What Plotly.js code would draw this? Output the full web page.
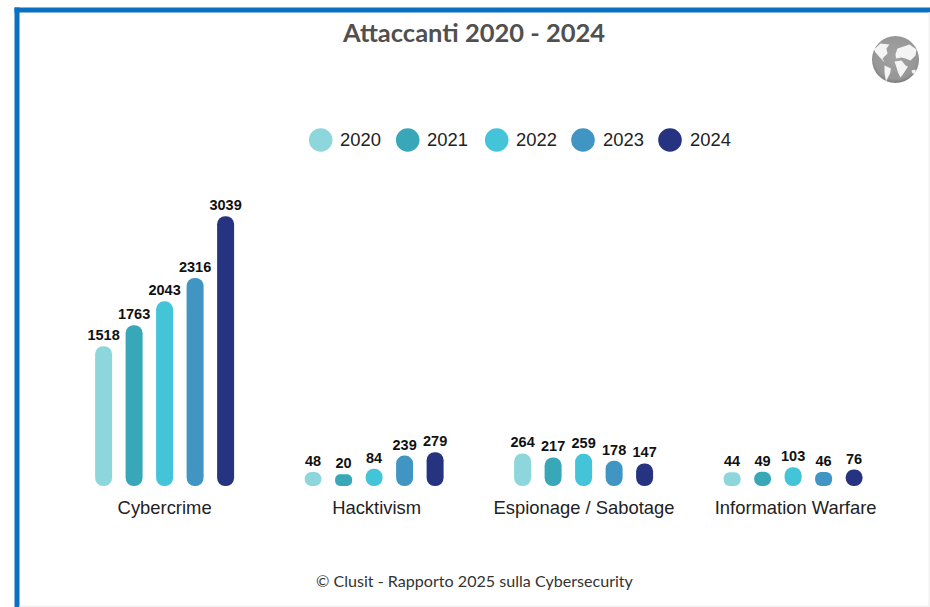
<!DOCTYPE html>
<html>
<head>
<meta charset="utf-8">
<script src="https://cdn.plot.ly/plotly-3.0.1.min.js"></script>
<style>html,body{margin:0;padding:0;background:#fff}</style>
</head>
<body>
<div id="chart" style="width:930px;height:607px"></div>
<script>
// Attackers by category, one series per year
const categories = ['Cybercrime', 'Hacktivism', 'Espionage / Sabotage', 'Information Warfare'];
const groupSlots = [0, 1, 2, 3];
const labelSlots = [0, 1.012, 2.002, 3.012];
const years = ['2020', '2021', '2022', '2023', '2024'];
const values2020 = [1518, 48, 264, 44];
const values2021 = [1763, 20, 217, 49];
const values2022 = [2043, 84, 259, 103];
const values2023 = [2316, 239, 178, 46];
const values2024 = [3039, 279, 147, 76];
const seriesValues = [values2020, values2021, values2022, values2023, values2024];
const colors = ['#8dd7dc', '#38a8b8', '#43c4d8', '#4195c3', '#263380'];

const W = 930, H = 607, plotBottom = 486;
const pxX = p => p / W;
const pxY = p => (plotBottom - p) / plotBottom;

// Every pill starts a little under zero; the axis floor leaves room for that round foot
const pxPerUnit = 0.0855;
const floorValue = -10 / pxPerUnit;
const zeroPx = 476;
const yRange = [floorValue, zeroPx / pxPerUnit];
const groupStep = 209.5, firstGroupPx = 164.6;
const xRange = [-firstGroupPx / groupStep, (W - firstGroupPx) / groupStep];

// A bar with an explicit base is rounded at both ends, which gives the pill shape
const traces = seriesValues.map((vals, i) => ({
  type: 'bar', name: years[i], x: groupSlots,
  base: vals.map(() => floorValue), y: vals.map(v => v - floorValue),
  marker: {color: colors[i], line: {width: 0}, cornerradius: 8.5},
  text: vals.map(String), textposition: 'outside', cliponaxis: false,
  constraintext: 'none',
  textfont: {family: 'Liberation Sans', size: 14.5, color: '#111', weight: 'bold'},
  customdata: vals, hovertemplate: '%{customdata}<extra>' + years[i] + '</extra>',
  showlegend: false
}));

// Legend row: filled dots with the year beside them
const legendDotPx = [320.7, 407.7, 496.7, 583, 670];
const shapes = [], annotations = [];
years.forEach((y, i) => {
  shapes.push({
    type: 'circle', xref: 'paper', yref: 'paper',
    x0: pxX(legendDotPx[i] - 11.8), x1: pxX(legendDotPx[i] + 11.8),
    y0: pxY(140 + 11.8), y1: pxY(140 - 11.8),
    fillcolor: colors[i], line: {width: 0}
  });
  annotations.push({
    xref: 'paper', yref: 'paper', x: pxX(legendDotPx[i] + 17.5), y: pxY(139.5),
    xanchor: 'left', yanchor: 'middle', showarrow: false, text: y,
    font: {family: 'Liberation Sans', size: 18.4, color: '#222'}
  });
});

// Frame around the card
const frame = (a, b, c, d, col) => ({
  type: 'rect', xref: 'paper', yref: 'paper',
  x0: pxX(a), x1: pxX(c), y0: pxY(d), y1: pxY(b), fillcolor: col, line: {width: 0}
});
shapes.push(frame(14.5, 7.5, 930, 12.5, '#0a70c2'));
shapes.push(frame(14.5, 7.5, 19.5, 607, '#0a70c2'));
shapes.push(frame(19.5, 605.5, 930, 607, '#f2f2f2'));
shapes.push(frame(928.5, 12.5, 930, 607, '#f0f0f0'));

annotations.push({
  xref: 'paper', yref: 'paper', x: pxX(474), y: pxY(32.3), xanchor: 'center', yanchor: 'middle',
  showarrow: false, text: '<b>Attaccanti 2020 - 2024</b>',
  font: {family: 'Lato', size: 25.5, color: '#505050'}
});
annotations.push({
  xref: 'paper', yref: 'paper', x: pxX(474.5), y: pxY(580.2), xanchor: 'center', yanchor: 'middle',
  showarrow: false, text: '© Clusit - Rapporto 2025 sulla Cybersecurity',
  font: {family: 'Lato', size: 16.1, color: '#333'}
});

// Small grey globe in the corner
const globeSvg = `<svg xmlns="http://www.w3.org/2000/svg" viewBox="0 0 48 48">
<defs><radialGradient id="g" cx="50%" cy="45%" r="55%"><stop offset="0%" stop-color="#a3a3a3"/><stop offset="85%" stop-color="#969696"/><stop offset="100%" stop-color="#7b7b7b"/></radialGradient></defs>
<circle cx="24" cy="24" r="23.5" fill="url(#g)"/>
<g fill="#f4f4f4">
<path d="M2.4 14 L9 8 L18 9 L15 13 L16 18 L11 23 L13 27 L7.5 21 L4 17 Z"/>
<path d="M13 30 L19.5 33 L18.5 38 L14.5 46 L13 37 Z"/>
<path d="M24 18.5 L26 13 L38 9 L45 14 L44 20 L39 25 L34 23 L30 22 L24.5 23 Z"/>
<path d="M23 26 L30 25 L34 30 L36.5 31 L32 38 L29 42 L26.5 37 L25 32 Z"/>
<path d="M40 35 L44 34 L44 38 L41 38 Z"/>
</g></svg>`;

Plotly.newPlot('chart', traces, {
  width: W, height: H,
  margin: {l: 0, r: 0, t: 0, b: H - plotBottom, pad: 0},
  paper_bgcolor: '#ffffff', plot_bgcolor: 'rgba(0,0,0,0)',
  showlegend: false,
  barmode: 'group',
  bargap: 0.272, bargroupgap: 0.443,
  xaxis: {
    type: 'linear', tickmode: 'array', tickvals: labelSlots, ticktext: categories,
    range: xRange, showgrid: false, zeroline: false, showline: false,
    ticks: 'outside', ticklen: 4.5, tickcolor: 'rgba(0,0,0,0)',
    tickfont: {family: 'Liberation Sans', size: 18.4, color: '#222'}
  },
  yaxis: {range: yRange, visible: false, fixedrange: true},
  shapes: shapes,
  annotations: annotations,
  images: [{
    source: 'data:image/svg+xml;utf8,' + encodeURIComponent(globeSvg),
    xref: 'paper', yref: 'paper', x: pxX(871.5), y: pxY(35.5),
    sizex: 48 / W, sizey: 48 / plotBottom, xanchor: 'left', yanchor: 'top', layer: 'above'
  }]
}, {displayModeBar: false, staticPlot: true});
</script>
</body>
</html>
